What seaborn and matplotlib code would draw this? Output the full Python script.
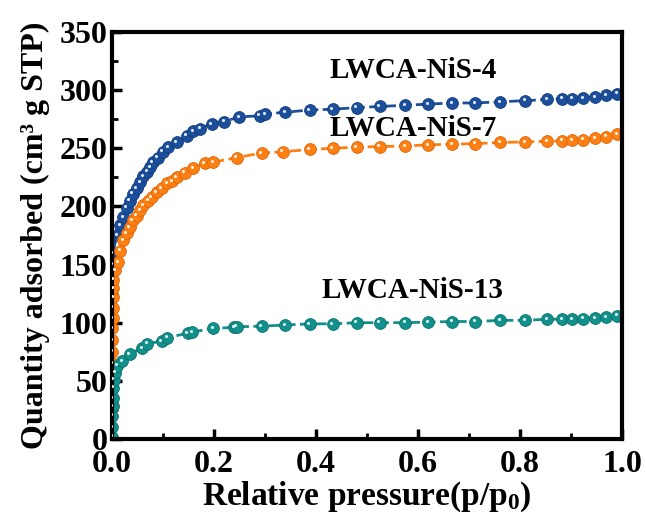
import numpy as np
import pandas as pd
import matplotlib
matplotlib.use("Agg")
import matplotlib.pyplot as plt
import matplotlib.transforms as mtransforms
import seaborn as sns

# ---------------- data ----------------
p_nis4 = [0.0008, 0.002, 0.01, 0.016, 0.022, 0.029, 0.035, 0.041, 0.049, 0.055, 0.061,
          0.069, 0.075, 0.08, 0.09, 0.1, 0.11, 0.127, 0.147, 0.159, 0.173, 0.196, 0.22,
          0.25, 0.29, 0.30, 0.34, 0.388, 0.433, 0.48, 0.525, 0.575, 0.62, 0.667, 0.712,
          0.761, 0.81, 0.853, 0.882, 0.902, 0.924, 0.947, 0.969, 0.99]
q_nis4 = [150, 160, 175, 184, 191, 199, 205, 211, 216, 221, 226,
          230, 234, 238, 242, 247, 251, 255, 261, 265, 267, 271, 273,
          277, 278, 279.5, 281, 283, 283.6, 285, 286, 287, 288, 289, 289,
          290, 291, 292, 292.8, 292.8, 293.4, 294.2, 295.7, 297]

p_nis7 = [0.0003, 0.0006, 0.0009, 0.0012, 0.0015, 0.0018, 0.0022, 0.0026, 0.003, 0.006,
          0.012, 0.016, 0.022, 0.029, 0.035, 0.041,
          0.049, 0.055, 0.061, 0.071, 0.078, 0.088, 0.098, 0.108, 0.118, 0.127, 0.143,
          0.159, 0.182, 0.198, 0.245, 0.294, 0.335, 0.388, 0.433, 0.48, 0.525, 0.575,
          0.62, 0.667, 0.712, 0.761, 0.81, 0.853, 0.882, 0.902, 0.924, 0.947, 0.969, 0.99]
q_nis7 = [65, 75, 85, 95, 104, 113, 122, 130, 137, 145,
          152, 162, 171, 177, 182, 188,
          192, 197, 201, 205, 208, 212, 216, 220, 222, 225, 229,
          233, 237, 238, 242, 246, 247, 249, 250, 251, 251.5, 252,
          253, 253.5, 254, 255, 255.5, 256, 256.5, 257, 257.5, 258.5, 260, 262]

p_nis13 = [0.0002, 0.0005, 0.001, 0.0015, 0.002, 0.003, 0.004, 0.006, 0.01, 0.02, 0.035, 0.059,
           0.069, 0.098, 0.108, 0.149, 0.157, 0.198, 0.24, 0.245, 0.294, 0.34, 0.388,
           0.433, 0.48, 0.525, 0.575, 0.62, 0.667, 0.712, 0.761, 0.81, 0.853, 0.882,
           0.902, 0.924, 0.947, 0.969, 0.99]
q_nis13 = [2, 10, 20, 28, 35, 44, 51, 57, 63, 67, 73, 78,
           82, 84, 87, 91, 92, 95, 96, 96.5, 97, 98, 99,
           99, 100, 100, 100, 100.5, 101, 101, 102, 102, 103, 103,
           103, 103.5, 104, 105, 106]

labels = ["LWCA-NiS-4", "LWCA-NiS-7", "LWCA-NiS-13"]
x_ticks = [0.0, 0.2, 0.4, 0.6, 0.8, 1.0]
y_ticks = [0, 50, 100, 150, 200, 250, 300, 350]

# ---------------- style ----------------
sns.set_theme(style="ticks")
plt.rcParams["font.family"] = ["Liberation Serif", "DejaVu Serif"]
plt.rcParams["font.weight"] = "bold"
plt.rcParams["mathtext.fontset"] = "custom"
plt.rcParams["mathtext.rm"] = "Liberation Serif:bold"
plt.rcParams["mathtext.it"] = "Liberation Serif:bold"
plt.rcParams["mathtext.bf"] = "Liberation Serif:bold"
for k in ["text.color", "axes.labelcolor", "xtick.color", "ytick.color", "axes.edgecolor"]:
    plt.rcParams[k] = "black"

colors = ["#1b4f9c", "#ff8012", "#11908c"]
edge_colors = ["#123a78", "#d9650a", "#0b6e6b"]
hl_colors = ["#dfe8f7", "#fff0de", "#ddf3f2"]

fig = plt.figure(figsize=(6.46, 5.17), dpi=100)
ax = fig.add_axes([0.173, 0.151, 0.79, 0.787])

series = [(p_nis4, q_nis4), (p_nis7, q_nis7), (p_nis13, q_nis13)]
hl_trans = mtransforms.offset_copy(ax.transData, fig=fig, x=-1.3, y=1.3, units="dots")

for (px, qy), c, ec, hc in zip(series, colors, edge_colors, hl_colors):
    df = pd.DataFrame({"p": px, "q": qy})
    sns.lineplot(data=df, x="p", y="q", ax=ax, color=c, sort=False, estimator=None,
                 linewidth=2.0, linestyle=(0, (4, 1.6)), marker="o", markersize=8.5,
                 markerfacecolor=c, markeredgecolor=ec, markeredgewidth=0.6)
    ax.scatter(px, qy, s=5, color=hc, linewidths=0, transform=hl_trans, zorder=5)

# labels on curves
text_x = [0.59, 0.59, 0.59]
text_y = [317, 267, 128]
for t, tx, ty in zip(labels, text_x, text_y):
    ax.text(tx, ty, t, ha="center", va="center", fontsize=21, fontweight="bold",
            color="black")

ax.set_xlim(0, 1.0)
ax.set_ylim(0, 350)
ax.set_xticks(x_ticks)
ax.set_xticklabels([f"{v:.1f}" for v in x_ticks])
ax.set_yticks(y_ticks)
ax.set_yticklabels([str(v) for v in y_ticks])
ax.set_xticks(np.arange(0.1, 1.0, 0.2), minor=True)
ax.set_yticks(np.arange(25, 350, 50), minor=True)

ax.tick_params(axis="both", which="major", direction="in", length=7, width=2.5,
               labelsize=23, pad=3)
ax.tick_params(axis="x", which="major", pad=8)
ax.tick_params(axis="both", which="minor", direction="in", length=4, width=2.0)
ax.tick_params(top=False, right=False, which="both")
for lab in ax.get_xticklabels() + ax.get_yticklabels():
    lab.set_fontweight("bold")

for s in ax.spines.values():
    s.set_linewidth(3)
    s.set_color("black")

ax.set_xlabel(r"Relative pressure(p/p$_0$)", fontsize=24, fontweight="bold", labelpad=0)
ax.set_ylabel("Quantity adsorbed (cm³ g STP)", fontsize=23, fontweight="bold", labelpad=7)

fig.savefig("out.png", dpi=100)
